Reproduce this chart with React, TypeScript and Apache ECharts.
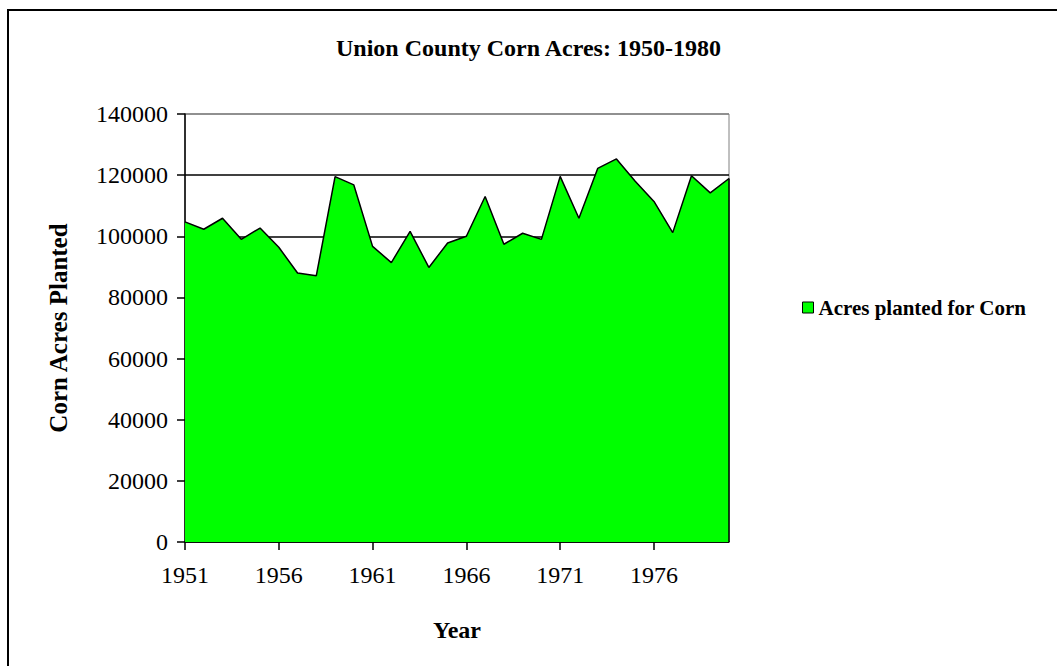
import React, { useEffect, useRef } from "react";
import * as echarts from "echarts";

const years: string[] = [
  "1951", "1952", "1953", "1954", "1955", "1956", "1957", "1958", "1959", "1960",
  "1961", "1962", "1963", "1964", "1965", "1966", "1967", "1968", "1969", "1970",
  "1971", "1972", "1973", "1974", "1975", "1976", "1977", "1978", "1979", "1980",
];

const cornAcres: number[] = [
  104700, 102300, 105900, 99000, 102700, 96400, 88000, 87100, 119500, 116800,
  96700, 91400, 101600, 89800, 97800, 100000, 113000, 97400, 101000, 99000,
  119600, 105900, 122200, 125300, 118000, 111400, 101200, 119800, 114200, 118900,
];

const seriesName = "Acres planted for Corn";
const titleText = "Union County Corn Acres: 1950-1980";
const FONT = '"Liberation Serif", "Times New Roman", serif';

export default function App() {
  const ref = useRef<HTMLDivElement>(null);
  useEffect(() => {
    if (!ref.current) return;
    const chart = echarts.init(ref.current, null, { renderer: "svg" });
    const last = years.length - 1;
    chart.setOption({
      animation: false,
      backgroundColor: "#fff",
      title: {
        text: titleText,
        left: 331,
        top: 31,
        textStyle: { fontFamily: FONT, fontWeight: "bold", fontSize: 24, color: "#000" },
      },
      graphic: [
        {
          type: "rect",
          shape: { x: 8, y: 10, width: 1200, height: 800 },
          style: { fill: "none", stroke: "#000", lineWidth: 2 },
          silent: true,
        },
      ],
      legend: {
        left: 797,
        top: 292,
        icon: "rect",
        itemWidth: 11,
        itemHeight: 11,
        itemGap: 5,
        data: [seriesName],
        itemStyle: { color: "#00ff00", borderColor: "#000", borderWidth: 1 },
        textStyle: { fontFamily: FONT, fontWeight: "bold", fontSize: 21, color: "#000" },
      },
      grid: {
        left: 185,
        right: 328,
        top: 114,
        bottom: 124,
        show: true,
        borderColor: "#808080",
        borderWidth: 1,
        containLabel: false,
      },
      xAxis: {
        type: "category",
        data: years,
        boundaryGap: false,
        name: "Year",
        nameLocation: "middle",
        nameGap: 76,
        nameTextStyle: { fontFamily: FONT, fontWeight: "bold", fontSize: 24, color: "#000" },
        axisLine: { lineStyle: { color: "#000", width: 1.5 } },
        axisTick: {
          interval: (i: number) => i % 5 === 0,
          length: 8,
          lineStyle: { color: "#000", width: 1.5 },
        },
        axisLabel: {
          interval: (i: number) => i % 5 === 0,
          margin: 21,
          fontFamily: FONT,
          fontSize: 24,
          color: "#000",
        },
        splitLine: { show: false },
      },
      yAxis: {
        type: "value",
        min: 0,
        max: 140000,
        interval: 20000,
        name: "Corn Acres Planted",
        nameLocation: "middle",
        nameGap: 114,
        nameTextStyle: { fontFamily: FONT, fontWeight: "bold", fontSize: 25, color: "#000" },
        axisLine: { show: true, lineStyle: { color: "#000", width: 1.5 } },
        axisTick: { show: true, length: 8, lineStyle: { color: "#000", width: 1.5 } },
        axisLabel: {
          margin: 17,
          fontFamily: FONT,
          fontSize: 24,
          color: "#000",
          formatter: (v: number) => String(v),
        },
        splitLine: {
          show: true,
          lineStyle: {
            color: ["#000", "#000", "#000", "#000", "#000", "#000", "#000", "#808080"],
            width: 1.5,
          },
        },
      },
      series: [
        {
          name: seriesName,
          type: "line",
          data: cornAcres,
          showSymbol: false,
          symbol: "none",
          itemStyle: { color: "#00ff00" },
          lineStyle: { color: "#000", width: 1.5 },
          areaStyle: { color: "#00ff00", opacity: 1 },
          markLine: {
            silent: true,
            symbol: ["none", "none"],
            label: { show: false },
            lineStyle: { color: "#000", width: 1.5, type: "solid" },
            data: [
              [
                { coord: [years[last], 0] },
                { coord: [years[last], cornAcres[last]] },
              ],
            ],
          },
        },
      ],
    });
    return () => chart.dispose();
  }, []);
  return (
    <div
      ref={ref}
      style={{ position: "fixed", left: 0, top: 0, width: 1057, height: 666 }}
    />
  );
}
